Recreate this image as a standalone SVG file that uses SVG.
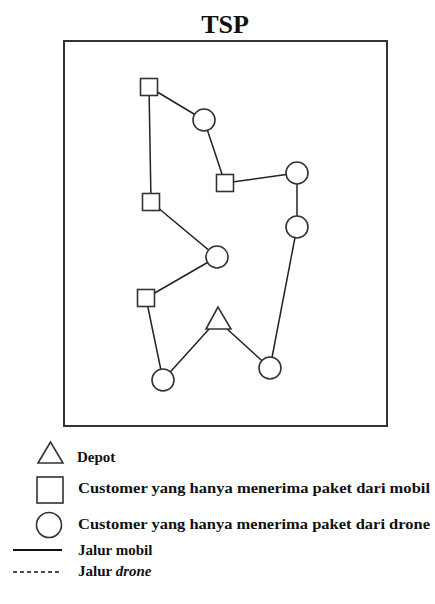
<svg xmlns="http://www.w3.org/2000/svg" width="435" height="604" viewBox="0 0 435 604">
<style>
.n{fill:#fff;stroke:#333;stroke-width:1.6}
.e{stroke:#222;stroke-width:1.5;fill:none}
.t{font-family:"Liberation Serif","Times New Roman",serif;font-weight:bold;fill:#111}
</style>
<rect width="435" height="604" fill="#fff"/>
<text class="t" x="225" y="33" font-size="26" text-anchor="middle">TSP</text>
<rect x="64" y="41" width="323" height="385" fill="none" stroke="#333" stroke-width="2"/>
<g id="connectors" class="e">
<line x1="149" y1="87" x2="204" y2="120"/>
<line x1="204" y1="120" x2="225" y2="183"/>
<line x1="225" y1="183" x2="297" y2="173"/>
<line x1="297" y1="173" x2="297" y2="227"/>
<line x1="297" y1="227" x2="270" y2="368"/>
<line x1="270" y1="368" x2="226" y2="328"/>
<line x1="210" y1="328" x2="163" y2="380"/>
<line x1="163" y1="380" x2="146" y2="298"/>
<line x1="146" y1="298" x2="217" y2="257"/>
<line x1="217" y1="257" x2="151" y2="202"/>
<line x1="151" y1="202" x2="149" y2="87"/>
</g>
<g id="s1"><rect class="n" x="140.5" y="78.5" width="17" height="17"/></g>
<g id="c1"><circle class="n" cx="204" cy="120" r="11"/></g>
<g id="s2"><rect class="n" x="216.5" y="174.5" width="17" height="17"/></g>
<g id="c2"><circle class="n" cx="297" cy="173" r="11"/></g>
<g id="c3"><circle class="n" cx="297" cy="227" r="11"/></g>
<g id="s3"><rect class="n" x="142.5" y="193.5" width="17" height="17"/></g>
<g id="c4"><circle class="n" cx="217" cy="257" r="11"/></g>
<g id="s4"><rect class="n" x="137.5" y="289.5" width="17" height="17"/></g>
<g id="depot"><polygon class="n" points="218,307 206,329 231,329"/></g>
<g id="c5"><circle class="n" cx="163" cy="380" r="11"/></g>
<g id="c6"><circle class="n" cx="270" cy="368" r="11"/></g>
<g id="legend">
<polygon class="n" points="50.5,442 38,463 63,463"/>
<text class="t" x="77" y="462" font-size="15">Depot</text>
<rect class="n" x="37" y="477" width="26" height="26"/>
<text class="t" x="78" y="493" font-size="15" textLength="352" lengthAdjust="spacingAndGlyphs">Customer yang hanya menerima paket dari mobil</text>
<circle class="n" cx="49" cy="525" r="12.5"/>
<text class="t" x="78" y="529" font-size="15" textLength="352" lengthAdjust="spacingAndGlyphs">Customer yang hanya menerima paket dari drone</text>
<line x1="13" y1="550" x2="62" y2="550" stroke="#111" stroke-width="2"/>
<text class="t" x="78" y="555" font-size="15">Jalur mobil</text>
<line x1="13" y1="572" x2="62" y2="572" stroke="#111" stroke-width="1.5" stroke-dasharray="4,3"/>
<text class="t" x="78" y="576" font-size="15">Jalur <tspan font-style="italic">drone</tspan></text>
</g>
</svg>
